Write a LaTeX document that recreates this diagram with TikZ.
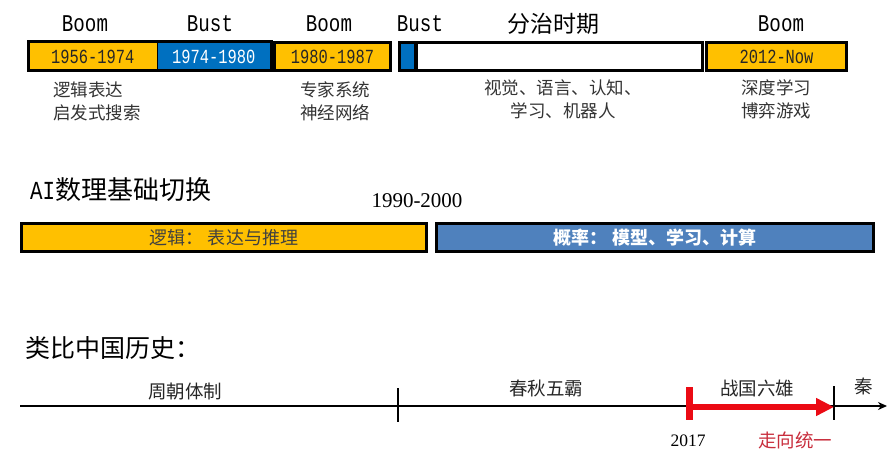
\documentclass[tikz,border=0pt]{standalone}
\usepackage{fontspec}
\setmainfont{Liberation Serif}
\newfontfamily\cjk{Noto Sans CJK SC}
\newfontfamily\boomfont[FakeStretch=0.8]{Liberation Mono}
\newfontfamily\yearfont[FakeStretch=0.77]{Liberation Mono}
\usetikzlibrary{arrows.meta, fit}
\definecolor{boomorange}{RGB}{255,192,0}
\definecolor{bustblue}{RGB}{0,112,192}
\definecolor{probblue}{RGB}{79,129,189}
\definecolor{unired}{RGB}{235,10,20}
\definecolor{unitext}{RGB}{200,45,60}

\begin{document}
\begin{tikzpicture}[
		x=1pt, y=-1pt,
		era/.style={draw, line width=1pt, minimum height=28pt, inner sep=0pt, font=\yearfont\fontsize{20}{20}\selectfont, text=black!85},
		era3/.style={era, line width=3pt},
		frame/.style={draw, line width=3pt, inner sep=0pt},
		phase/.style={font=\boomfont\fontsize{24}{24}\selectfont},
		note/.style={font=\cjk\fontsize{17.5}{23}\selectfont, text=black!80, align=center, inner sep=0pt},
		band/.style={draw, line width=3pt, minimum height=28pt, inner sep=0pt, font=\cjk\fontsize{18}{18}\selectfont},
		head/.style={font=\cjk\fontsize{25}{25}\selectfont, anchor=west, inner sep=0pt},
		tl/.style={font=\cjk\fontsize{18.5}{18.5}\selectfont, text=black!85},
		tick/.style={line width=1.5pt},
		ax/.style={-{Stealth[length=9pt, width=8pt]}, line width=1.5pt}
		]
		\useasboundingbox (0,0) rectangle (892,460);
		
		\node[era, fill=boomorange, minimum width=128.5pt] (e1) at (92.75,56.5) {1956-1974};
		\node[era, fill=bustblue, minimum width=113.5pt, text=white] (e2) at (213.75,56.5) {1974-1980};
		\node[frame, fit=(e1)(e2)] (e12) {};
		\node[era3, fill=boomorange, minimum width=116pt] (e3) at (332.5,56.5) {1980-1987};
		\node[era3, fill=bustblue, minimum width=16pt] (e4) at (407.5,56.5) {};
		\node[era3, fill=white, minimum width=286pt] (e5) at (559,56.5) {};
		\node[era3, fill=boomorange, minimum width=140pt] (e6) at (776.5,56.5) {2012-Now};
		
		\node[phase] (p1) at (85,24) {Boom};
		\node[phase] (p2) at (210,24) {Bust};
		\node[phase] (p3) at (329,24) {Boom};
		\node[phase] (p4) at (420,24) {Bust};
		\node[font=\cjk\fontsize{23}{23}\selectfont] (p5) at (553,24) {分治时期};
		\node[phase] (p6) at (781,24) {Boom};
		
		\node[note, align=left, anchor=west] (n1) at (53,101.5) {逻辑表达\\启发式搜索};
		\node[note] (n3) at (335,101.5) {专家系统\\神经网络};
		\node[note] (n5) at (563,99) {视觉、语言、认知、\\学习、机器人};
		\node[note] (n6) at (776,99) {深度学习\\博弈游戏};
		
		\node[head, font=\cjk\fontsize{26}{26}\selectfont] (t2) at (30,190) {{\boomfont AI}数理基础切换};
		\node[font=\fontsize{21}{21}\selectfont] (yr) at (417,201) {1990-2000};
		\node[band, fill=boomorange, minimum width=405pt, text=black!75] (logic) at (224,237.5) {逻辑：\ 表达与推理};
		\node[band, fill=probblue, minimum width=437pt, text=white, font=\cjk\bfseries\fontsize{18}{18}\selectfont] (prob) at (655,237.5) {概率：\ 模型、学习、计算};
		
		\node[head] (t3) at (25,348) {类比中国历史：};
		\coordinate (ax0) at (20,406);
		\coordinate (ax1) at (887,406);
		\coordinate (k1t) at (398,388);
		\coordinate (k1b) at (398,422);
		\coordinate (k2t) at (834,386);
		\coordinate (k2b) at (834,420);
		\coordinate (r0t) at (689,387);
		\coordinate (r0b) at (689,420);
		\coordinate (r0) at (689,407);
		\coordinate (r1) at (834,407);
		
		\draw[ax] (ax0) -- (ax1);
		\draw[tick] (k1t) -- (k1b);
		\draw[tick] (k2t) -- (k2b);
		\draw[unired, line width=7pt] (r0t) -- (r0b);
		\draw[unired, line width=6pt, -{Triangle[length=18pt, width=17pt]}] (r0) -- (r1);
		
		\node[tl] (z1) at (185,392) {周朝体制};
		\node[tl] (z2) at (546,388) {春秋五霸};
		\node[tl] (z3) at (757,388) {战国六雄};
		\node[tl] (z4) at (864,386) {秦};
		\node[font=\fontsize{17.5}{17.5}\selectfont] (y17) at (688,441) {2017};
		\node[tl, text=unitext] (z5) at (795,440) {走向统一};
	\end{tikzpicture}
\end{document}
